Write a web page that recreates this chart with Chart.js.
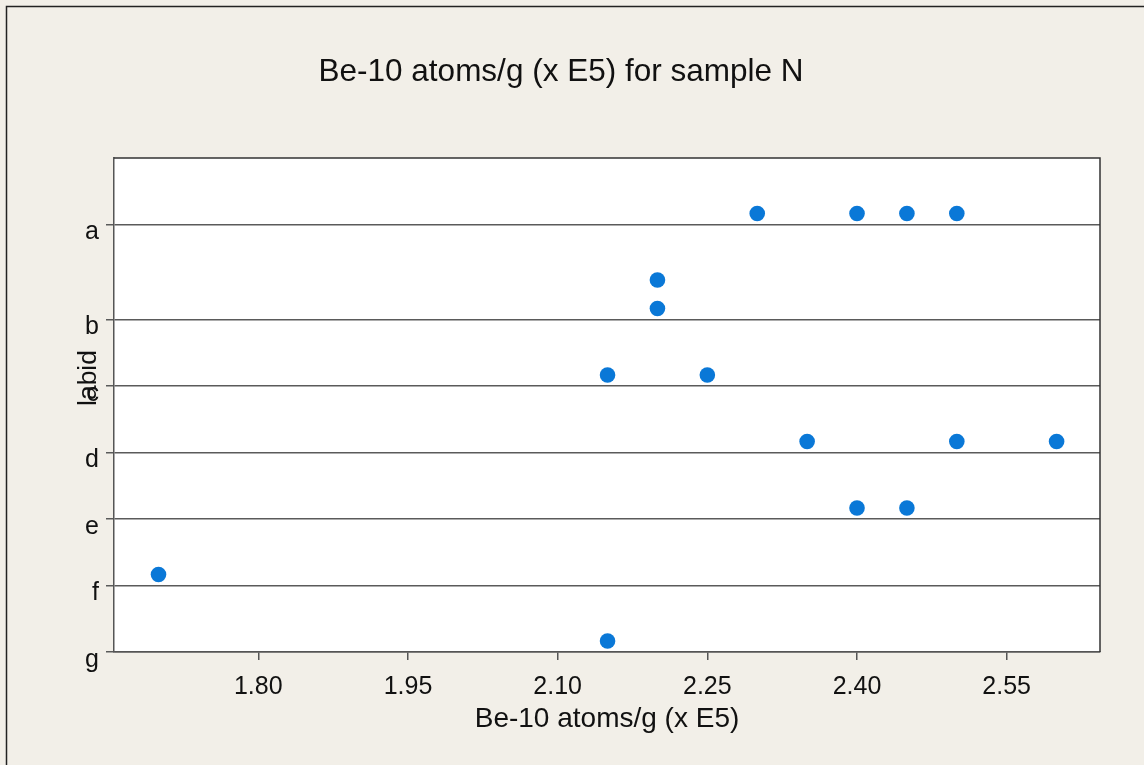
<!DOCTYPE html>
<html><head><meta charset="utf-8">
<script src="https://cdn.jsdelivr.net/npm/chart.js@4.4.1/dist/chart.umd.min.js"></script>
<style>html,body{margin:0;padding:0;background:#f2efe8;} #wrap{width:1144px;height:765px;position:relative;}</style>
</head><body><div id="wrap"><canvas id="c" width="1144" height="765"></canvas></div>
<script>
// ---- data ----
const chartTitle = 'Be-10 atoms/g (x E5) for sample N';
const xTitle = 'Be-10 atoms/g (x E5)';
const yTitle = 'labid';
const categories = ['a', 'b', 'c', 'd', 'e', 'f', 'g'];
const sampleLabid = ['a','a','a','a','b','b','c','c','d','d','d','e','e','f','g'];
const be10Values  = [2.30,2.40,2.45,2.50,2.20,2.20,2.15,2.25,2.35,2.50,2.60,2.40,2.45,1.70,2.15];
const xTickValues = [1.80, 1.95, 2.10, 2.25, 2.40, 2.55];
const xRange = [1.6554, 2.6435];

// ---- dot-plot layout (stacking of identical values) ----
const STACK_STEP = 0.427, DOT_LIFT = 0.165;
const counts = {}, stackIndex = [];
sampleLabid.forEach((lab, i) => {
  const key = lab + '|' + be10Values[i];
  counts[key] = counts[key] || 0;
  stackIndex.push(counts[key]);
  counts[key]++;
});
const maxStack = {};
categories.forEach(c => maxStack[c] = 1);
Object.keys(counts).forEach(k => { const lab = k.split('|')[0]; maxStack[lab] = Math.max(maxStack[lab], counts[k]); });
const baseline = {};
let acc = 0;
for (let i = categories.length - 1; i >= 0; i--) {
  const c = categories[i];
  baseline[c] = acc;
  acc += 1 + STACK_STEP * (maxStack[c] - 1);
}
const yMax = acc;
const points = sampleLabid.map((lab, i) => ({ x: be10Values[i], y: baseline[lab] + DOT_LIFT + stackIndex[i] * STACK_STEP }));

const FONT = 'Liberation Sans';
const bgPlugin = {
  id: 'bg',
  beforeDraw(chart) {
    const { ctx, chartArea: a, width, height } = chart;
    ctx.save();
    ctx.fillStyle = '#f2efe8';
    ctx.fillRect(0, 0, width, height);
    ctx.strokeStyle = '#222';
    ctx.lineWidth = 1.5;
    ctx.beginPath();
    ctx.moveTo(6.5, height); ctx.lineTo(6.5, 6.5); ctx.lineTo(width, 6.5);
    ctx.stroke();
    ctx.fillStyle = '#ffffff';
    ctx.fillRect(a.left, a.top, a.right - a.left, a.bottom - a.top);
    ctx.restore();
  },
  afterDraw(chart) {
    const { ctx, chartArea: a } = chart;
    ctx.save();
    ctx.strokeStyle = '#333';
    ctx.lineWidth = 1.5;
    ctx.beginPath();
    ctx.moveTo(a.left, a.top); ctx.lineTo(a.right, a.top); ctx.lineTo(a.right, a.bottom);
    ctx.stroke();
    ctx.translate(96, 378);
    ctx.rotate(-Math.PI / 2);
    ctx.font = '26.5px "' + FONT + '"';
    ctx.fillStyle = '#111';
    ctx.textAlign = 'center';
    ctx.textBaseline = 'alphabetic';
    ctx.fillText(yTitle, 0, 0);
    ctx.restore();
  }
};

new Chart(document.getElementById('c'), {
  type: 'scatter',
  data: { datasets: [{ data: points, backgroundColor: '#0a78d7', borderWidth: 0, pointRadius: 7.8, pointHoverRadius: 7.8 }] },
  options: {
    responsive: false, animation: false, devicePixelRatio: 1,
    layout: { padding: { left: 0, right: 22, top: 0, bottom: 0 } },
    plugins: {
      legend: { display: false }, tooltip: { enabled: false },
      title: { display: true, text: chartTitle, color: '#111', font: { family: FONT, size: 31.5, weight: 'normal' }, padding: { top: 53, bottom: 67.2 } }
    },
    scales: {
      x: {
        type: 'linear', min: xRange[0], max: xRange[1],
        afterBuildTicks: s => { s.ticks = xTickValues.map(v => ({ value: v })); },
        afterFit: s => { s.height = 113; },
        ticks: { autoSkip: false, maxRotation: 0, color: '#111', font: { family: FONT, size: 25 }, padding: 12.5, callback: v => Number(v).toFixed(2) },
        grid: { display: true, drawOnChartArea: false, drawTicks: true, tickLength: 8, color: '#555', lineWidth: 1.5 },
        border: { display: true, color: '#555', width: 1.5 },
        title: { display: true, text: xTitle, color: '#111', font: { family: FONT, size: 28 }, padding: { top: 0, bottom: 28.5 } }
      },
      y: {
        type: 'linear', min: 0, max: yMax,
        afterBuildTicks: s => { s.ticks = categories.map(c => ({ value: baseline[c] })); },
        afterFit: s => { s.width = 114; },
        ticks: { autoSkip: false, color: '#111', font: { family: FONT, size: 25 }, padding: 7, labelOffset: 8,
          callback: v => { const c = categories.find(k => Math.abs(baseline[k] - v) < 1e-6); return c || ''; } },
        grid: { display: true, drawOnChartArea: true, drawTicks: true, tickLength: 8, color: '#5a5a5a', lineWidth: 1.5 },
        border: { display: true, color: '#555', width: 1.5 }
      },
      y2: {
        type: 'linear', position: 'right', display: true,
        afterFit: s => { s.width = 22; },
        ticks: { display: false }, grid: { display: false }, border: { display: false }
      }
    }
  },
  plugins: [bgPlugin]
});
</script>
</body></html>
